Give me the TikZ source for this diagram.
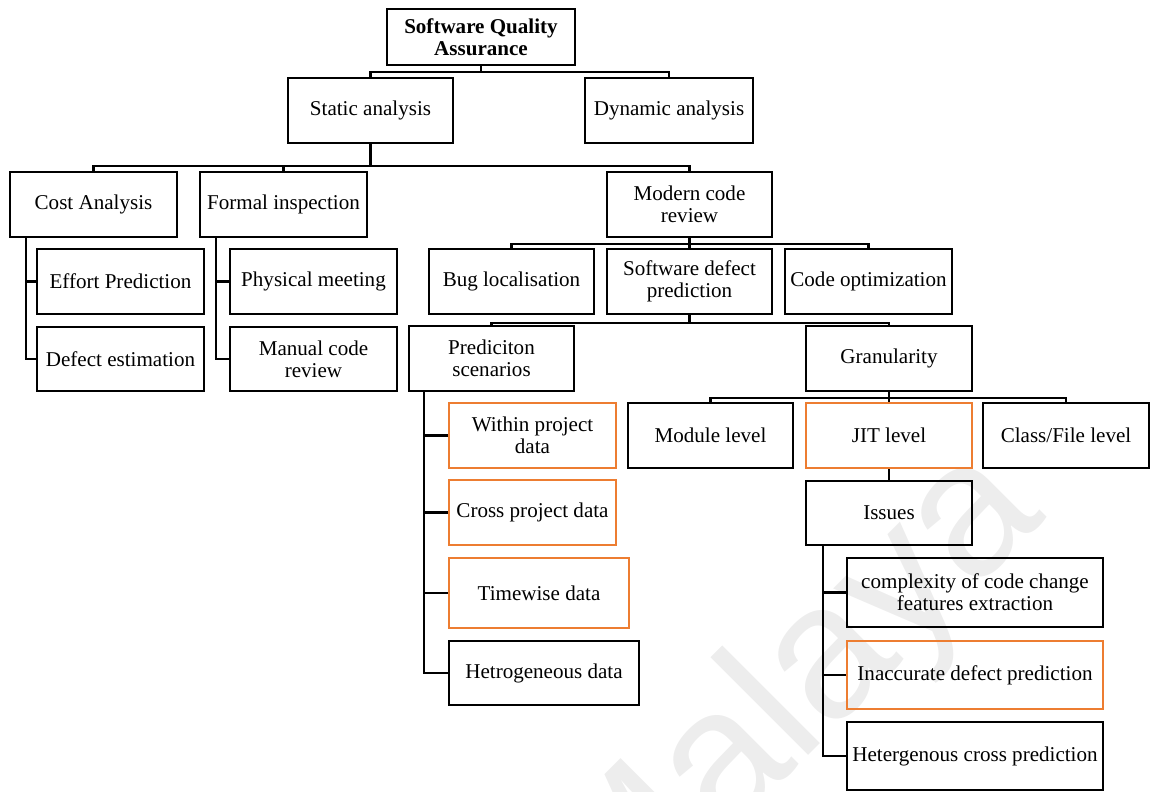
\documentclass[tikz,border=0pt]{standalone}
\usepackage{fontspec}
\setmainfont{Liberation Serif}
\newfontfamily\wmfont{Liberation Sans}
\usetikzlibrary{calc}
\definecolor{accent}{HTML}{ED7D31}

% \drawbox[style]{name}{x1}{y1}{x2}{y2}{text}: box given by its corners (px units)
\newcommand\drawbox[7][]{%
  \node[box,#1,minimum width={(#5-#3)*0.75pt},minimum height={(#6-#4)*0.75pt}]
    (#2) at ({(#3+#5)/2},{(#4+#6)/2}) {#7};}

\begin{document}
\begin{tikzpicture}[x=0.75pt,y=-0.75pt,
  box/.style={draw=black,line width=1.8pt,inner sep=1pt,align=center,
    font=\fontsize{15.8}{16.5}\selectfont},
  hl/.style={draw=accent},
  conn/.style={line width=1.8pt,line join=miter}]
\useasboundingbox (0,0) rectangle (1153,792);

% faint watermark
\begin{scope}
\clip (0,0) rectangle (1153,792);
\node[rotate=45,text=black!7,font=\wmfont\fontsize{143}{143}\selectfont] (wm) at (795,700) {Malaya};
\end{scope}

% boxes
\drawbox{sqa}{387}{9}{575}{65}{\textbf{Software Quality}\\\textbf{Assurance}}
\drawbox{static}{288}{78}{453}{143}{Static analysis}
\drawbox{dyn}{585}{78}{753}{143}{Dynamic analysis}
\drawbox{cost}{10}{172}{177}{237}{Cost Analysis}
\drawbox{formal}{200}{172}{367}{237}{Formal inspection}
\drawbox{mcr}{607}{172}{772}{237}{Modern code\\review}
\drawbox{effort}{37}{249}{204}{314}{Effort Prediction}
\drawbox{defest}{37}{327}{204}{391}{Defect estimation}
\drawbox{phys}{230}{249}{397}{314}{Physical meeting}
\drawbox{manual}{230}{327}{397}{391}{Manual code\\review}
\drawbox{bug}{429}{249}{594}{314}{Bug localisation}
\drawbox{sdp}{607}{249}{772}{314}{Software defect\\prediction}
\drawbox{opt}{785}{249}{952}{314}{Code optimization}
\drawbox{pred}{409}{326}{574}{391}{Prediciton\\scenarios}
\drawbox{gran}{806}{326}{972}{391}{Granularity}
\drawbox[hl]{within}{449}{403}{616}{468}{Within project\\data}
\drawbox[hl]{cross}{449}{480}{616}{545}{Cross project data}
\drawbox[hl]{time}{449}{558}{629}{628}{Timewise data}
\drawbox{hetero}{449}{641}{639}{705}{Hetrogeneous data}
\drawbox{module}{628}{403}{793}{468}{Module level}
\drawbox[hl]{jit}{806}{403}{972}{468}{JIT level}
\drawbox{class}{983}{403}{1149}{468}{Class/File level}
\drawbox{issues}{806}{481}{972}{545}{Issues}
\drawbox{cplx}{847}{558}{1103}{627}{complexity of code change\\features extraction}
\drawbox[hl]{inacc}{847}{641}{1103}{709}{Inaccurate defect prediction}
\drawbox{hcp}{847}{722}{1103}{790}{Hetergenous cross prediction}

% tree connectors
\foreach \c in {static,dyn} \draw[conn] (sqa.south) -- ++(0,6) -| (\c.north);
\foreach \c in {cost,formal,mcr} \draw[conn] (static.south) -- ++(0,22) -| (\c.north);
\foreach \c in {bug,sdp,opt} \draw[conn] (mcr.south) -- ++(0,6) -| (\c.north);
\foreach \c in {pred,gran} \draw[conn] (sdp.south) -- ++(0,8) -| (\c.north);
\foreach \c in {module,jit,class} \draw[conn] (gran.south) -- ++(0,6) -| (\c.north);
\draw[conn] (jit.south) -- (issues.north);

% side connectors
\foreach \c in {effort,defest} \draw[conn] ([xshift=12.75pt]cost.south west) |- (\c.west);
\foreach \c in {phys,manual} \draw[conn] ([xshift=12.75pt]formal.south west) |- (\c.west);
\foreach \c in {within,cross,time,hetero} \draw[conn] ([xshift=12pt]pred.south west) |- (\c.west);
\foreach \c in {cplx,inacc,hcp} \draw[conn] ([xshift=13.5pt]issues.south west) |- (\c.west);
\end{tikzpicture}
\end{document}
